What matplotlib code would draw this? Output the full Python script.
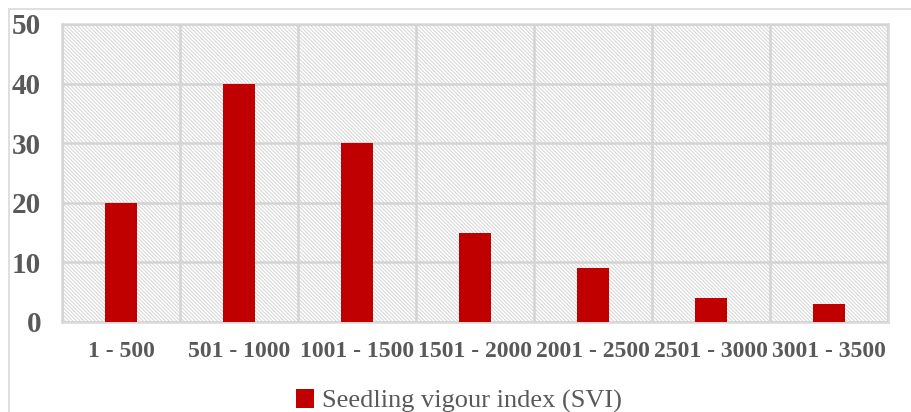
import numpy as np
import matplotlib
matplotlib.use('Agg')
import matplotlib.pyplot as plt
from matplotlib.patches import Rectangle

plt.rcParams['font.family'] = ['Liberation Serif', 'DejaVu Serif']
plt.rcParams['hatch.color'] = '#d6d6d6'
plt.rcParams['hatch.linewidth'] = 0.8

categories = ['1 - 500', '501 - 1000', '1001 - 1500', '1501 - 2000',
              '2001 - 2500', '2501 - 3000', '3001 - 3500']
svi = [20, 40, 30, 15, 9, 4, 3]
series_name = 'Seedling vigour index (SVI)'

bar_color = '#c00000'
grid_color = '#d9d9d9'
text_color = '#595959'

fig = plt.figure(figsize=(9.12, 4.12), dpi=100)
ax = fig.add_axes([62/912, 90/412, 826/912, 298/412])

# outer chart border (top and left visible)
fig.patches.append(Rectangle((9/912, -0.2), 1.5, (403/412) + 0.2,
                             transform=fig.transFigure, fill=False,
                             edgecolor=grid_color, lw=1.2))

x = np.arange(len(categories))

# hatched plot area
ax.add_patch(Rectangle((0, 0), 1, 1, transform=ax.transAxes, facecolor='white',
                       hatch='\\' * 9, edgecolor=grid_color, lw=0, zorder=0))

ax.bar(x, svi, width=0.27, color=bar_color, zorder=3, label=series_name)

ax.set_xlim(-0.5, len(categories) - 0.5)
ax.set_ylim(0, 50)
ax.set_yticks(range(0, 51, 10))
ax.set_xticks(x)
ax.set_xticklabels(categories)
ax.set_xticks(np.arange(-0.5, len(categories), 1), minor=True)

ax.set_axisbelow(False)
ax.grid(axis='y', which='major', color='#d4d4d4', lw=1.8, zorder=2)
ax.grid(axis='x', which='minor', color='#d4d4d4', lw=1.8, zorder=2)
ax.grid(axis='x', which='major', visible=False)

for s in ax.spines.values():
    s.set_color(grid_color)
    s.set_linewidth(1.8)

ax.tick_params(axis='both', which='both', length=0)
ax.tick_params(axis='y', pad=15, labelsize=21, labelcolor=text_color)
ax.tick_params(axis='x', pad=14, labelsize=17, labelcolor=text_color)
for lbl in ax.get_yticklabels() + ax.get_xticklabels():
    lbl.set_fontweight('bold')

leg = fig.legend(loc='center', bbox_to_anchor=(459/912, 1 - 401/412),
                 frameon=False, fontsize=19, handlelength=0.7, handleheight=0.7,
                 handletextpad=0.3)
for t in leg.get_texts():
    t.set_color(text_color)

fig.savefig('out.png', dpi=100)
